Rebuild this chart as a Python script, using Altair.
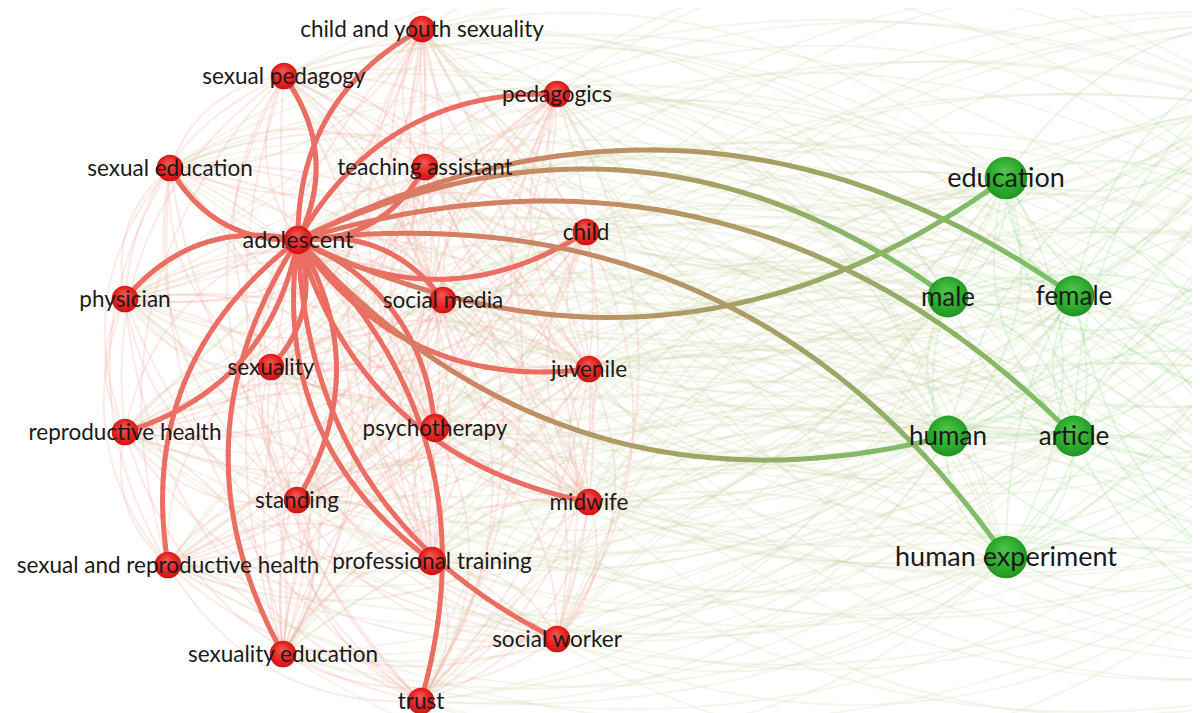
import math
import altair as alt
import pandas as pd

# ---- nodes (page pixel coordinates) ----
names = [
    "child and youth sexuality", "sexual pedagogy", "pedagogics", "sexual education",
    "teaching assistant", "adolescent", "child", "physician", "social media",
    "sexuality", "juvenile", "reproductive health", "psychotherapy", "standing",
    "midwife", "sexual and reproductive health", "professional training",
    "social worker", "sexuality education", "trust",
    "education", "male", "female", "human", "article", "human experiment",
]
node_x = [422, 284, 557, 170, 425, 298, 586, 125, 443, 271, 589, 125, 435, 297,
          589, 168, 432, 557, 283, 421,
          1006, 948, 1074, 948, 1074, 1006]
node_y = [29, 76, 94, 168, 167, 240, 232, 299, 300, 367, 369, 432, 428, 500,
          502, 565, 561, 639, 654, 701,
          178, 297, 296, 436, 436, 557]
cluster = ["red"] * 20 + ["green"] * 6
radius = [15, 15, 15, 15, 15, 16, 15, 15, 15, 15, 15, 15, 16, 15,
          15, 15, 16, 15, 15, 15,
          24, 23, 23, 23, 23, 24]
font_size = [22.5, 22.5, 22.5, 22.5, 22.5, 23.5, 22.5, 22.5, 22.5, 22.5, 22.5, 22.5, 22.5, 22.5,
             22.5, 22.5, 22.5, 22.5, 22.5, 22.5,
             27, 26, 26, 26, 26, 27]

# nodes of the green cluster that lie beyond the right edge of the view
hidden_x = [1270, 1310, 1350, 1290, 1400, 1330]
hidden_y = [110, 250, 390, 540, 660, 20]

# ---- links of the selected item ----
hub = "adolescent"
link_targets = [
    "child and youth sexuality", "sexual pedagogy", "pedagogics", "sexual education",
    "teaching assistant", "child", "physician", "social media", "sexuality",
    "juvenile", "reproductive health", "psychotherapy", "standing", "midwife",
    "sexual and reproductive health", "professional training", "social worker",
    "sexuality education", "trust",
    "education", "male", "female", "human", "article", "human experiment",
]
link_bend = [-1, 1, -1, -1, 1, 1, 1, -1, -1, 1, -1, -1, -1, 1, 1, 1, 1, 1, -1,
             1, -1, -1, 1, -1, -1]

RED_EDGE = "#ec6e63"
GREEN_EDGE = "#78c266"
CURV = 0.3
NPTS = 24


def bezier(p0, p1, sign, n):
    x0, y0 = p0
    x1, y1 = p1
    dx, dy = x1 - x0, y1 - y0
    cx = (x0 + x1) / 2 + sign * CURV * (-dy)
    cy = (y0 + y1) / 2 + sign * CURV * dx
    pts = []
    for k in range(n + 1):
        t = k / n
        a, b, c = (1 - t) ** 2, 2 * (1 - t) * t, t ** 2
        pts.append((t, a * x0 + b * cx + c * x1, a * y0 + b * cy + c * y1))
    return pts


pos = {n: (x, y) for n, x, y in zip(names, node_x, node_y)}
clu = {n: c for n, c in zip(names, cluster)}
all_pts = [(n, node_x[i], node_y[i], cluster[i]) for i, n in enumerate(names)]
all_pts += [(f"h{i}", hx, hy, "green") for i, (hx, hy) in enumerate(zip(hidden_x, hidden_y))]

# ---- background (faint) links among all items ----
bg_rows = []
eid = 0
for i in range(len(all_pts)):
    for j in range(i + 1, len(all_pts)):
        ni, xi, yi, ci = all_pts[i]
        nj, xj, yj, cj = all_pts[j]
        kind = "rr" if ci == cj == "red" else ("gg" if ci == cj == "green" else "rg")
        sign = 1 if (i + j) % 2 == 0 else -1
        for t, x, y in bezier((xi, yi), (xj, yj), sign, NPTS):
            bg_rows.append({"edge": eid, "s": t, "x": x, "y": y, "kind": kind})
        eid += 1
bg = pd.DataFrame(bg_rows)

# ---- highlighted links (split into short segments for the colour gradient) ----
seg_rows = []
for tgt, sign in zip(link_targets, link_bend):
    pts = bezier(pos[hub], pos[tgt], sign, 40)
    grad = 1.0 if clu[tgt] == "green" else 0.0
    for (t0, xa, ya), (t1, xb, yb) in zip(pts[:-1], pts[1:]):
        seg_rows.append({"x": xa, "y": ya, "x2": xb, "y2": yb,
                         "t": grad * (t0 + t1) / 2})
seg = pd.DataFrame(seg_rows)

nodes = pd.DataFrame({"name": names, "x": node_x, "y": node_y, "cluster": cluster,
                      "area": [math.pi * r * r for r in radius], "fs": font_size})

xs = alt.Scale(domain=[8, 1192])
ys = alt.Scale(domain=[8, 713], reverse=True)

background = alt.Chart(bg).mark_line(strokeWidth=2, clip=True).encode(
    x=alt.X("x:Q", scale=xs, axis=None),
    y=alt.Y("y:Q", scale=ys, axis=None),
    detail="edge:N",
    order="s:Q",
    color=alt.Color("kind:N", legend=None,
                    scale=alt.Scale(domain=["rr", "gg", "rg"],
                                    range=["#f59a92", "#93d98a", "#cfd6a8"])),
    opacity=alt.Opacity("kind:N", legend=None,
                        scale=alt.Scale(domain=["rr", "gg", "rg"],
                                        range=[0.22, 0.22, 0.13])),
)

links = alt.Chart(seg).mark_rule(strokeWidth=5, strokeCap="round", clip=True).encode(
    x=alt.X("x:Q", scale=xs, axis=None),
    y=alt.Y("y:Q", scale=ys, axis=None),
    x2="x2:Q",
    y2="y2:Q",
    color=alt.Color("t:Q", legend=None,
                    scale=alt.Scale(domain=[0, 1], range=[RED_EDGE, GREEN_EDGE],
                                    interpolate="rgb")),
)

red_fill = alt.RadialGradient(
    gradient="radial", x1=0.45, y1=0.3, r1=0.0, x2=0.5, y2=0.5, r2=0.6,
    stops=[alt.GradientStop(color="#f25a55", offset=0),
           alt.GradientStop(color="#e3221f", offset=0.6),
           alt.GradientStop(color="#c40f10", offset=1)])
green_fill = alt.RadialGradient(
    gradient="radial", x1=0.45, y1=0.3, r1=0.0, x2=0.5, y2=0.5, r2=0.6,
    stops=[alt.GradientStop(color="#4cc64a", offset=0),
           alt.GradientStop(color="#2eaa2e", offset=0.6),
           alt.GradientStop(color="#1c8a1f", offset=1)])

red_nodes = alt.Chart(nodes).transform_filter(alt.datum.cluster == "red").mark_circle(
    fill=red_fill, opacity=1).encode(
    x=alt.X("x:Q", scale=xs, axis=None),
    y=alt.Y("y:Q", scale=ys, axis=None),
    size=alt.Size("area:Q", scale=None),
)
green_nodes = alt.Chart(nodes).transform_filter(alt.datum.cluster == "green").mark_circle(
    fill=green_fill, opacity=1).encode(
    x=alt.X("x:Q", scale=xs, axis=None),
    y=alt.Y("y:Q", scale=ys, axis=None),
    size=alt.Size("area:Q", scale=None),
)

labels = alt.Chart(nodes).mark_text(font="Lato", color="#1a1a1a", align="center",
                                    baseline="middle", dy=1).encode(
    x=alt.X("x:Q", scale=xs, axis=None),
    y=alt.Y("y:Q", scale=ys, axis=None),
    text="name:N",
    size=alt.Size("fs:Q", scale=None),
)

chart = alt.layer(background, links, red_nodes, green_nodes, labels).properties(
    width=1184, height=705, padding=0, autosize=alt.AutoSizeParams(type="none"),
    background="white",
).configure_view(stroke=None)

chart.save("out.html", embed_options={"renderer": "svg", "actions": False})
